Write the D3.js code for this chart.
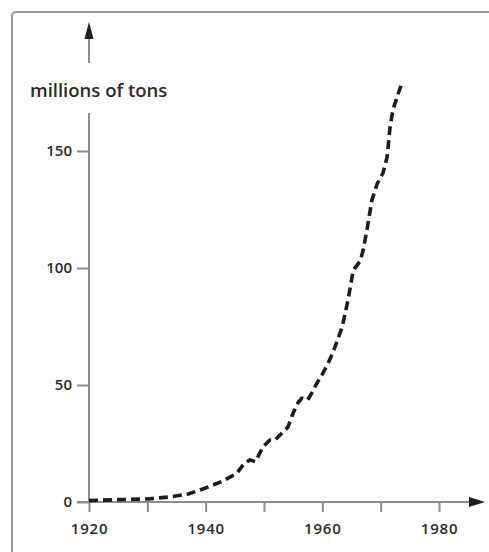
<!DOCTYPE html>
<html>
<head>
<meta charset="utf-8">
<script src="https://cdn.jsdelivr.net/npm/d3@7"></script>
<style>
  html, body { margin: 0; padding: 0; background: #fff; }
  svg { display: block; }
  text { font-family: "Open Sans", "Noto Sans", sans-serif; fill: #2a2a2a; }
</style>
</head>
<body>
<svg id="chart" width="489" height="552"></svg>
<script>
// ---- data ----
const years = [1920, 1925, 1930, 1934, 1937, 1940, 1943, 1945.4, 1946.6, 1947.6, 1948.5, 1949, 1949.8, 1951, 1951.9, 1953.1, 1954.1, 1955, 1955.8, 1956.5, 1957.5, 1958.2, 1959.1, 1960.1, 1961, 1961.8, 1963.4, 1964.4, 1965.3, 1966.5, 1967, 1967.7, 1968.5, 1969.4, 1970.4, 1971.1, 1971.6, 1972.1, 1972.8, 1973.7];
const tons  = [0.6, 1.0, 1.3, 2.2, 3.4, 6.0, 9.0, 12.4, 16.5, 18.0, 17.2, 19.5, 23.5, 26.5, 26.5, 29.5, 32.0, 38.0, 42.3, 44.4, 43.6, 46.6, 50.9, 55.0, 59.4, 63.7, 74.8, 86.3, 99.0, 103.0, 107.7, 117.0, 129.0, 136.0, 140.6, 147.4, 160.0, 167.5, 173.0, 179.5];
const xTicks = [1920, 1930, 1940, 1950, 1960, 1970, 1980];
const xTickLabels = ["1920", "", "1940", "", "1960", "", "1980"];
const yTicks = [0, 50, 100, 150];
const yLabel = "millions of tons";

// ---- layout ----
const svg = d3.select("#chart");
const x = d3.scaleLinear().domain([1920, 1980]).range([89, 439]);
const y = d3.scaleLinear().domain([0, 150]).range([502, 151]);
const axisColor = "#8c8c8c";

// frame
svg.append("rect")
  .attr("x", 12).attr("y", 12).attr("width", 520).attr("height", 580)
  .attr("rx", 4).attr("fill", "none").attr("stroke", "#999").attr("stroke-width", 2);

// y axis line (broken around label) + arrow
svg.append("line").attr("x1", x(1920)).attr("x2", x(1920)).attr("y1", 36).attr("y2", 63)
  .attr("stroke", axisColor).attr("stroke-width", 2);
svg.append("line").attr("x1", x(1920)).attr("x2", x(1920)).attr("y1", 113).attr("y2", y(0))
  .attr("stroke", axisColor).attr("stroke-width", 2);
svg.append("path")
  .attr("d", `M${x(1920)},22 L${x(1920) - 4.5},39 L${x(1920) + 4.5},39 Z`)
  .attr("fill", "#1e1e1e");

// x axis line + arrow
svg.append("line").attr("x1", x(1920) - 12).attr("x2", 474).attr("y1", y(0)).attr("y2", y(0))
  .attr("stroke", axisColor).attr("stroke-width", 2);
svg.append("path")
  .attr("d", `M485,${y(0)} L469,${y(0) - 5} L469,${y(0) + 5} Z`)
  .attr("fill", "#1e1e1e");

// y ticks
const yAxis = d3.axisLeft(y).tickValues(yTicks).tickSize(12).tickPadding(5).tickFormat(d3.format("d"));
const gy = svg.append("g").attr("transform", `translate(${x(1920)},0)`).call(yAxis);
gy.select(".domain").remove();
gy.selectAll(".tick line").attr("stroke", axisColor).attr("stroke-width", 2);
gy.selectAll(".tick text")
  .style("font-size", "15px").style("font-weight", "600").attr("fill", "#2a2a2a");

// x ticks
const xAxis = d3.axisBottom(x).tickValues(xTicks).tickSize(10).tickPadding(11)
  .tickFormat((d, i) => xTickLabels[i]);
const gx = svg.append("g").attr("transform", `translate(0,${y(0)})`).call(xAxis);
gx.select(".domain").remove();
gx.selectAll(".tick line").attr("stroke", axisColor).attr("stroke-width", 2);
gx.selectAll(".tick text")
  .style("font-size", "15px").style("font-weight", "600").style("letter-spacing", "0.8px")
  .attr("fill", "#2a2a2a");

// axis label
svg.append("text").attr("x", 30).attr("y", 97)
  .style("font-size", "18.5px").style("font-weight", "600")
  .text(yLabel);

// data line
const data = years.map((yr, i) => ({ yr, v: tons[i] }));
const line = d3.line().x(d => x(d.yr)).y(d => y(d.v)).curve(d3.curveLinear);
svg.append("path")
  .datum(data)
  .attr("d", line)
  .attr("fill", "none")
  .attr("stroke", "#1c1c1c")
  .attr("stroke-width", 3.6)
  .attr("stroke-dasharray", "9,5")
  .attr("stroke-linejoin", "round");
</script>
</body>
</html>
